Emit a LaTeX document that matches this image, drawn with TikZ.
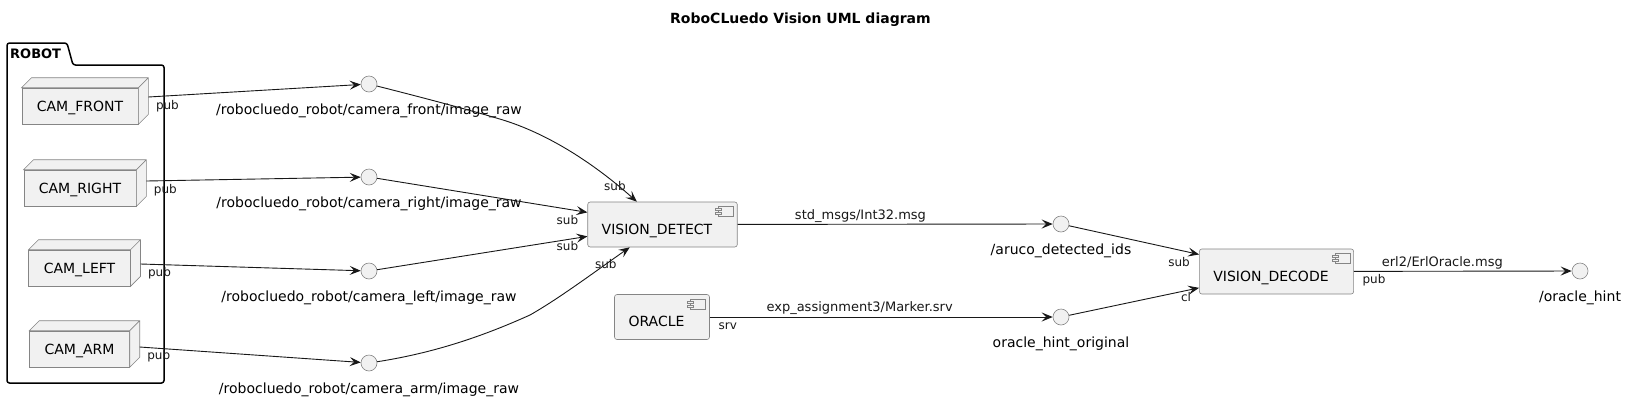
\documentclass[tikz,border=0pt]{standalone}
\usepackage{fontspec}
\setmainfont{DejaVu Sans}
\usetikzlibrary{positioning,arrows.meta}
\definecolor{nodefill}{HTML}{F1F1F1}
\definecolor{ink}{HTML}{181818}
\definecolor{rim}{HTML}{858585}

\begin{document}
\begin{tikzpicture}[x=1pt, y=-1pt,
		>={Stealth[length=11pt,width=9pt,inset=4.5pt]},
		cam/.style={draw=rim, line width=0.6pt, fill=nodefill, inner xsep=15pt, inner ysep=0pt, minimum height=36pt, text height=10pt, text depth=0pt, font=\fontsize{14}{16}\selectfont},
		comp/.style={draw=rim, line width=0.6pt, fill=nodefill, rounded corners=2.5pt, inner xsep=14pt, inner ysep=0pt, minimum height=45pt, text height=30pt, text depth=11pt, execute at end node=\hspace*{11pt}, font=\fontsize{14}{16}\selectfont},
		topic/.style={circle, draw=rim, line width=0.6pt, fill=nodefill, minimum size=16pt, inner sep=0pt},
		topiclbl/.style={inner sep=0pt, text height=11pt, text depth=3pt, font=\fontsize{14}{16}\selectfont},
		msg/.style={font=\fontsize{13}{15}\selectfont, inner sep=1.5pt},
		port/.style={font=\fontsize{12}{14}\selectfont, inner sep=0pt},
		wire/.style={->, color=ink, line width=0.9pt}
	]
	\fill[white] (0,0) rectangle (1626,400);
	\useasboundingbox (0,0) rectangle (1626,400);

	\node[font=\bfseries\fontsize{14}{16}\selectfont, anchor=base west, inner sep=0pt] (title) at (670,23) {RoboCLuedo Vision UML diagram};

	\draw[line width=1.5pt, rounded corners=2.5pt] (7,65) -- (7,43) -- (67,43) -- (73,65) -- (164,65) -- (164,383) -- (7,383) -- cycle;
	\node[font=\bfseries\fontsize{13}{15}\selectfont, anchor=base west, inner sep=0pt] (robot) at (10,58) {ROBOT};

	\node[cam] (camF) at (80,106) {CAM\_FRONT};
	\node[cam] (camR) at (80,188) {CAM\_RIGHT};
	\node[cam] (camL) at (79.5,268) {CAM\_LEFT};
	\node[cam] (camA) at (79.5,349) {CAM\_ARM};
	\foreach \c in {camF,camR,camL,camA}
		\draw[draw=rim, line width=0.6pt, fill=nodefill]
			(\c.north west) -- ++(10,-10) -- ([xshift=10pt,yshift=10pt]\c.north east) -- ([xshift=10pt,yshift=10pt]\c.south east) -- (\c.south east) -- (\c.north east) -- cycle
			(\c.north east) -- ++(10,-10);

	\node[topic] (tF) at (369,84) {};
	\node[topic] (tR) at (369,177) {};
	\node[topic] (tL) at (369,271) {};
	\node[topic] (tA) at (369,363) {};
	\node[topic] (tIds) at (1061,224) {};
	\node[topic] (tOrig) at (1061,317) {};
	\node[topic] (tHint) at (1580,271) {};
	\node[topiclbl, below=11pt of tF] (lF) {/robocluedo\_robot/camera\_front/image\_raw};
	\node[topiclbl, below=11pt of tR] (lR) {/robocluedo\_robot/camera\_right/image\_raw};
	\node[topiclbl, below=11pt of tL] (lL) {/robocluedo\_robot/camera\_left/image\_raw};
	\node[topiclbl, below=11pt of tA] (lA) {/robocluedo\_robot/camera\_arm/image\_raw};
	\node[topiclbl, below=11pt of tIds] (lIds) {/aruco\_detected\_ids};
	\node[topiclbl, below=11pt of tOrig] (lOrig) {oracle\_hint\_original};
	\node[topiclbl, below=11pt of tHint] (lHint) {/oracle\_hint};

	\node[comp] (det) at (662.5,224.5) {VISION\_DETECT};
	\node[comp] (orc) at (662,317) {ORACLE};
	\node[comp] (dec) at (1276.5,271.5) {VISION\_DECODE};
	\foreach \c in {det,orc,dec}{
		\draw[draw=rim, line width=0.6pt, fill=nodefill] ([xshift=-19pt,yshift=-5pt]\c.north east) rectangle ([xshift=-4pt,yshift=-15pt]\c.north east);
		\draw[draw=rim, line width=0.6pt, fill=nodefill] ([xshift=-22pt,yshift=-7pt]\c.north east) rectangle ([xshift=-16pt,yshift=-9pt]\c.north east);
		\draw[draw=rim, line width=0.6pt, fill=nodefill] ([xshift=-22pt,yshift=-11pt]\c.north east) rectangle ([xshift=-16pt,yshift=-13pt]\c.north east);
	}

	\foreach \c/\t/\dy in {camF/tF/9,camR/tR/7,camL/tL/4,camA/tA/2}
		\path[wire] ([xshift=10pt,yshift=\dy pt]\c.east) edge node[port, pos=0, xshift=19pt, yshift=-9pt]{pub} (\t);

	\draw[wire] (tF) .. controls (440,102) and (480,113) .. (503,120) .. controls (545,133) and (590,160) .. (det) node[port, pos=1, xshift=-22pt, yshift=16pt]{sub};
	\draw[wire] (tA) .. controls (440,352) and (490,333) .. (530,315) .. controls (560,298) and (600,268) .. (det) node[port, pos=1, xshift=-24pt, yshift=-17pt]{sub};
	\path[wire]
		(tR) edge node[port, pos=1, xshift=-20pt, yshift=-8pt]{sub} (det)
		(tL) edge node[port, pos=1, xshift=-20pt, yshift=-10pt]{sub} (det)
		(det) edge node[msg, pos=0.39, above]{std\_msgs/Int32.msg} (tIds)
		(orc) edge node[msg, pos=0.437, above]{exp\_assignment3/Marker.srv} node[port, pos=0, xshift=18pt, yshift=-9pt]{srv} (tOrig)
		(tIds) edge node[port, pos=1, xshift=-20pt, yshift=-8pt]{sub} (dec)
		(tOrig) edge node[port, pos=1, xshift=-13pt, yshift=-9pt]{cl} (dec)
		(dec) edge node[msg, pos=0.406, above]{erl2/ErlOracle.msg} node[port, pos=0, xshift=20pt, yshift=-9pt]{pub} (tHint);
\end{tikzpicture}
\end{document}
